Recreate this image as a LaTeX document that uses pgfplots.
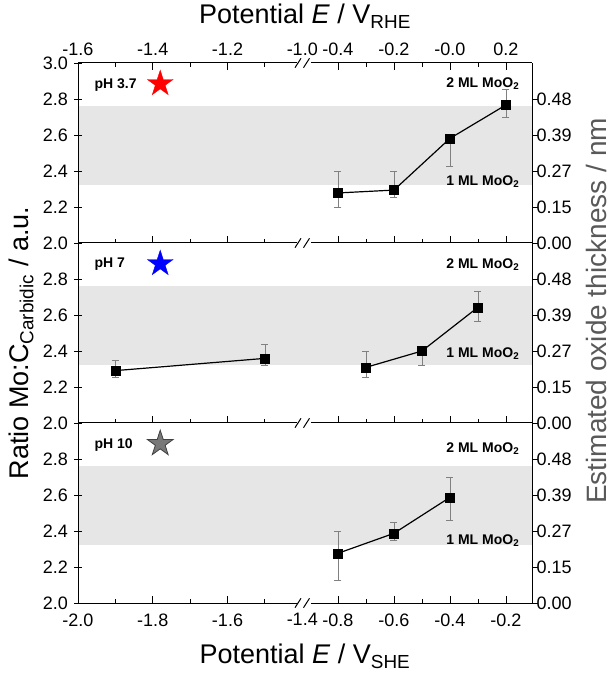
\documentclass[border=0pt]{standalone}
\usepackage{fontspec}
\setmainfont{Liberation Sans}
\usepackage{pgfplots}
\usepackage{pgfplotstable}
\pgfplotsset{compat=1.18}
\definecolor{bandgray}{RGB}{230,230,230}
\definecolor{errgray}{RGB}{128,128,128}
\definecolor{labgray}{RGB}{89,89,89}
\definecolor{stargray}{RGB}{120,120,120}

\pgfdeclareplotmark{fstar}{%
  \pgfpathmoveto{\pgfpointpolar{90}{\pgfplotmarksize}}%
  \pgfpathlineto{\pgfpointpolar{126}{0.382\pgfplotmarksize}}%
  \pgfpathlineto{\pgfpointpolar{162}{\pgfplotmarksize}}%
  \pgfpathlineto{\pgfpointpolar{198}{0.382\pgfplotmarksize}}%
  \pgfpathlineto{\pgfpointpolar{234}{\pgfplotmarksize}}%
  \pgfpathlineto{\pgfpointpolar{270}{0.382\pgfplotmarksize}}%
  \pgfpathlineto{\pgfpointpolar{306}{\pgfplotmarksize}}%
  \pgfpathlineto{\pgfpointpolar{342}{0.382\pgfplotmarksize}}%
  \pgfpathlineto{\pgfpointpolar{18}{\pgfplotmarksize}}%
  \pgfpathlineto{\pgfpointpolar{54}{0.382\pgfplotmarksize}}%
  \pgfpathclose
  \pgfusepathqfillstroke
}

\pgfplotstableread{
x y ep em
-0.8 2.278 0.122 0.078
-0.6 2.294 0.106 0.040
-0.4 2.581 0.020 0.157
-0.2 2.767 0.087 0.067
}\phA
\pgfplotstableread{
x y ep em
-1.9 2.291 0.059 0.039
-1.5 2.359 0.080 0.041
}\phBl
\pgfplotstableread{
x y ep em
-0.7 2.309 0.091 0.057
-0.5 2.400 0.024 0.078
-0.3 2.643 0.087 0.080
}\phBr
\pgfplotstableread{
x y ep em
-0.8 2.276 0.120 0.148
-0.6 2.387 0.059 0.037
-0.4 2.587 0.111 0.130
}\phC

\tikzset{lbl/.style={font=\bfseries\fontsize{14}{16}\selectfont}}

\pgfplotsset{
  base/.style={scale only axis, height=180pt, anchor=south west, ymin=2, ymax=3,
    clip=false, axis on top, tick align=inside,
    major tick length=7pt, minor tick length=4pt,
    tick style={black, line width=0.8pt},
    tick label style={font=\fontsize{18}{20}\selectfont},
    yticklabel style={xshift=-3pt},
  },
  leftseg/.style={base, width=228pt, xmin=-2.0, xmax=-1.39,
    axis x line=box, axis y line=left,
    x axis line style={-}, y axis line style={-}, axis line style={line width=1pt},
    xtick={-2.0,-1.8,-1.6}, minor xtick={-1.9,-1.7,-1.5},
    extra x ticks={-1.4}, extra x tick style={major tick length=0pt},
  },
  rightseg/.style={base, width=226pt, xmin=-0.914, xmax=-0.107,
    axis x line=box, axis y line=none, ytick=\empty,
    x axis line style={-}, axis line style={line width=1pt},
    xtick={-0.8,-0.6,-0.4,-0.2}, minor xtick={-0.7,-0.5,-0.3},
  },
  rightyax/.style={scale only axis, height=180pt, width=226pt, anchor=south west,
    ymin=2, ymax=3, xmin=-0.914, xmax=-0.107,
    axis x line=none, xtick=\empty, axis y line=right, y axis line style={-},
    axis line style={line width=1pt},
    tick align=outside, major tick length=6pt,
    tick style={black, line width=0.8pt},
    ytick={2,2.2,2.4,2.6,2.8}, yticklabels={0.00,0.15,0.27,0.39,0.48},
    tick label style={font=\fontsize{18}{20}\selectfont},
    yticklabel style={xshift=-5pt},
  },
  toplab/.style={xtick pos=both, xticklabel pos=right, xticklabel style={yshift=4pt}},
  botlab/.style={xtick pos=left, xticklabel style={yshift=-7pt}},
  band/.style={draw=none, fill=bandgray, forget plot},
  ser/.style={black, line width=1.2pt, mark=square*, mark size=4.5pt,
    mark options={fill=black, line width=0.5pt},
    error bars/.cd, y dir=both, y explicit,
    error bar style={color=errgray, line width=0.7pt},
    error mark options={rotate=90, mark size=3.5pt, color=errgray, line width=0.7pt}},
}

\begin{document}
\begin{tikzpicture}
\path[use as bounding box] (0,0) rectangle (611pt,675pt);

% ---------------- Panel 1: pH 3.7 ----------------
\begin{axis}[leftseg, at={(78pt,432pt)},
  ytick={2,2.2,2.4,2.6,2.8,3}, yticklabels={2.0,2.2,2.4,2.6,2.8,3.0},
  toplab, xticklabels={-1.6,-1.4,-1.2}, extra x tick labels={-1.0}]
\addplot[band] coordinates {(-2.0,2.32) (-1.39,2.32) (-1.39,2.76) (-2.0,2.76)};
\addplot[only marks, mark=fstar, mark size=13.5pt, mark options={fill=red, draw=red}] coordinates {(-1.78,2.885)};
\node[anchor=west, lbl] at (axis cs:-1.965,2.88) {pH 3.7};
\end{axis}
\begin{axis}[rightseg, at={(306pt,432pt)},
  toplab, xticklabels={-0.4,-0.2,-0.0,0.2}]
\addplot[band] coordinates {(-0.914,2.32) (-0.107,2.32) (-0.107,2.76) (-0.914,2.76)};
\addplot[ser] table[x=x, y=y, y error plus=ep, y error minus=em] {\phA};
\node[anchor=east, lbl] at (axis cs:-0.14,2.885) {2 ML MoO\textsubscript{2}};
\node[anchor=east, lbl] at (axis cs:-0.14,2.34) {1 ML MoO\textsubscript{2}};
\end{axis}
\begin{axis}[rightyax, at={(306pt,432pt)}]
\end{axis}

% ---------------- Panel 2: pH 7 ----------------
\begin{axis}[leftseg, at={(78pt,252pt)},
  ytick={2,2.2,2.4,2.6,2.8}, yticklabels={2.0,2.2,2.4,2.6,2.8},
  xtick pos=left, xticklabels={{},{},{}}, extra x tick labels={{}}]
\addplot[band] coordinates {(-2.0,2.32) (-1.39,2.32) (-1.39,2.76) (-2.0,2.76)};
\addplot[ser] table[x=x, y=y, y error plus=ep, y error minus=em] {\phBl};
\addplot[only marks, mark=fstar, mark size=13.5pt, mark options={fill=blue, draw=blue}] coordinates {(-1.78,2.885)};
\node[anchor=west, lbl] at (axis cs:-1.965,2.88) {pH 7};
\end{axis}
\begin{axis}[rightseg, at={(306pt,252pt)}, xtick pos=left, xticklabels={{},{},{},{}}]
\addplot[band] coordinates {(-0.914,2.32) (-0.107,2.32) (-0.107,2.76) (-0.914,2.76)};
\addplot[ser] table[x=x, y=y, y error plus=ep, y error minus=em] {\phBr};
\node[anchor=east, lbl] at (axis cs:-0.14,2.88) {2 ML MoO\textsubscript{2}};
\node[anchor=east, lbl] at (axis cs:-0.14,2.385) {1 ML MoO\textsubscript{2}};
\end{axis}
\begin{axis}[rightyax, at={(306pt,252pt)}]
\end{axis}

% ---------------- Panel 3: pH 10 ----------------
\begin{axis}[leftseg, at={(78pt,72pt)},
  ytick={2,2.2,2.4,2.6,2.8}, yticklabels={2.0,2.2,2.4,2.6,2.8},
  botlab, xticklabels={-2.0,-1.8,-1.6}, extra x tick labels={-1.4}]
\addplot[band] coordinates {(-2.0,2.32) (-1.39,2.32) (-1.39,2.76) (-2.0,2.76)};
\addplot[only marks, mark=fstar, mark size=13.5pt, mark options={fill=stargray, draw=black!75, line width=0.8pt}] coordinates {(-1.78,2.885)};
\node[anchor=west, lbl] at (axis cs:-1.965,2.88) {pH 10};
\end{axis}
\begin{axis}[rightseg, at={(306pt,72pt)}, botlab,
  xticklabels={-0.8,-0.6,-0.4,-0.2}]
\addplot[band] coordinates {(-0.914,2.32) (-0.107,2.32) (-0.107,2.76) (-0.914,2.76)};
\addplot[ser] table[x=x, y=y, y error plus=ep, y error minus=em] {\phC};
\node[anchor=east, lbl] at (axis cs:-0.14,2.86) {2 ML MoO\textsubscript{2}};
\node[anchor=east, lbl] at (axis cs:-0.14,2.345) {1 ML MoO\textsubscript{2}};
\end{axis}
\begin{axis}[rightyax, at={(306pt,72pt)}]
\end{axis}

% axis breaks
\foreach \yy in {72,252,432,612} {
  \fill[white] (297pt,\yy pt-2.5pt) rectangle (311pt,\yy pt+2.5pt);
  \draw[line width=1pt] (295pt,\yy pt-4.7pt) -- (301pt,\yy pt+4.7pt);
  \draw[line width=1pt] (303.5pt,\yy pt-4.7pt) -- (309.5pt,\yy pt+4.7pt);
}

% titles
\node[anchor=base, font=\fontsize{27}{30}\selectfont] at (305pt,651pt) {Potential \textit{E} / V\textsubscript{RHE}};
\node[anchor=base, font=\fontsize{27}{30}\selectfont] at (305pt,11pt) {Potential \textit{E} / V\textsubscript{SHE}};
\node[rotate=90, font=\fontsize{27}{30}\selectfont] at (21pt,332pt) {Ratio Mo:C\textsubscript{Carbidic} / a.u.};
\node[rotate=90, font=\fontsize{28}{30}\selectfont, text=labgray] at (596pt,364pt) {Estimated oxide thickness / nm};
\end{tikzpicture}
\end{document}
